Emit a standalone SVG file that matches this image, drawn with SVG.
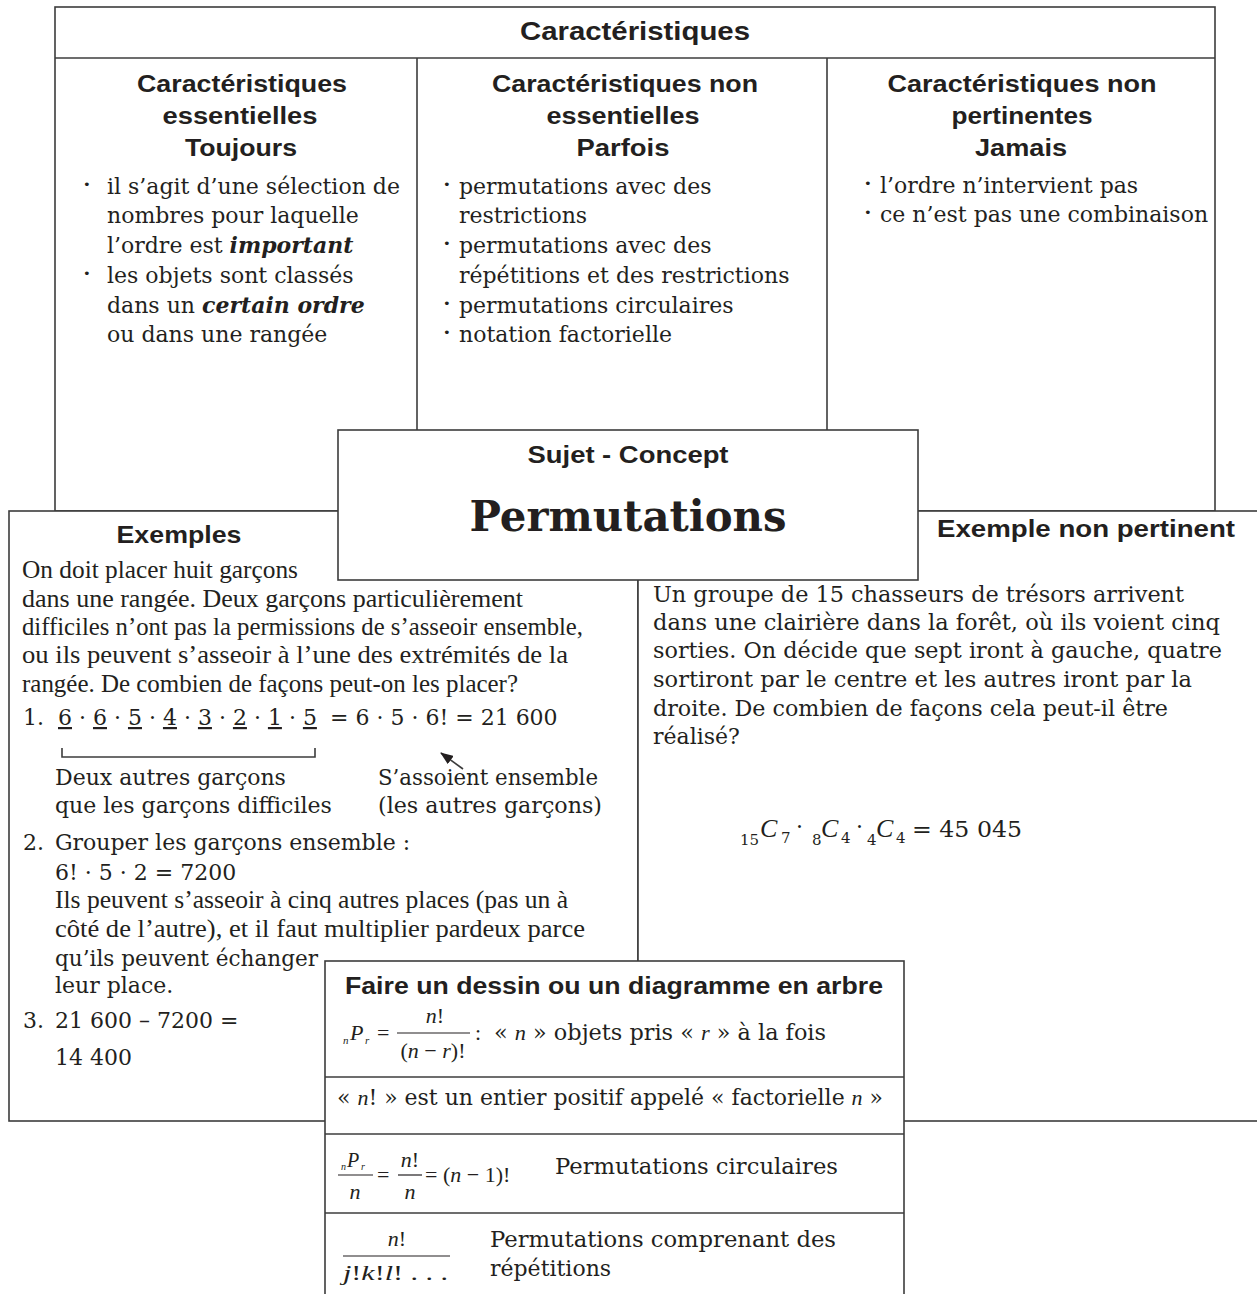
<svg xmlns="http://www.w3.org/2000/svg" width="1257" height="1294" viewBox="0 0 1257 1294">
<defs>
<style>
.box{fill:#fff;stroke:#3c3c3c;stroke-width:1.6}
.ln{fill:none;stroke:#3c3c3c;stroke-width:1.6}
.fl{stroke:#231f20;stroke-width:1.2}
.h{font-family:"Liberation Sans",Arial,Helvetica,sans-serif;font-weight:bold;font-size:23.5px;fill:#231f20}
.c{font-family:"DejaVu Serif",serif;font-size:22px;fill:#231f20}
.t{font-family:"Liberation Serif","Times New Roman",serif;font-size:25px;fill:#231f20}
.f{font-family:"Liberation Serif","Times New Roman",serif;font-size:22px;fill:#231f20}
.it{font-family:"Liberation Serif","Times New Roman",serif;font-style:italic}
.bi{font-weight:bold;font-style:italic}
.u{text-decoration:underline}
.dot{font-family:"DejaVu Sans",sans-serif;font-size:13px;fill:#231f20}
</style>
<marker id="ah" markerWidth="13" markerHeight="10" refX="12" refY="5" orient="auto" markerUnits="userSpaceOnUse">
<path d="M0,0 L13,5 L0,10 z" fill="#231f20"/>
</marker>
</defs>

<g id="characteristics">
<rect class="box" x="55" y="7" width="1160" height="504"/>
<line class="ln" x1="55" y1="58" x2="1215" y2="58"/>
<line class="ln" x1="417" y1="58" x2="417" y2="511"/>
<line class="ln" x1="827" y1="58" x2="827" y2="511"/>
<text class="h" x="635" y="40" text-anchor="middle" style="font-size:25.5px" textLength="230" lengthAdjust="spacingAndGlyphs">Caractéristiques</text>

<text class="h" x="242" y="92" text-anchor="middle" textLength="210" lengthAdjust="spacingAndGlyphs">Caractéristiques</text>
<text class="h" x="240" y="124" text-anchor="middle" textLength="155" lengthAdjust="spacingAndGlyphs">essentielles</text>
<text class="h" x="241" y="156" text-anchor="middle" textLength="112" lengthAdjust="spacingAndGlyphs">Toujours</text>
<text class="dot" x="83" y="189">•</text>
<text class="c" x="107" y="194">il s’agit d’une sélection de</text>
<text class="c" x="107" y="223">nombres pour laquelle</text>
<text class="c" x="107" y="253">l’ordre est <tspan class="bi">important</tspan></text>
<text class="dot" x="83" y="278">•</text>
<text class="c" x="107" y="283">les objets sont classés</text>
<text class="c" x="107" y="313">dans un <tspan class="bi">certain ordre</tspan></text>
<text class="c" x="107" y="342">ou dans une rangée</text>

<text class="h" x="625" y="92" text-anchor="middle" textLength="266" lengthAdjust="spacingAndGlyphs">Caractéristiques non</text>
<text class="h" x="623" y="124" text-anchor="middle" textLength="153" lengthAdjust="spacingAndGlyphs">essentielles</text>
<text class="h" x="623" y="156" text-anchor="middle" textLength="93" lengthAdjust="spacingAndGlyphs">Parfois</text>
<text class="dot" x="443" y="189">•</text>
<text class="c" x="459" y="194">permutations avec des</text>
<text class="c" x="459" y="223">restrictions</text>
<text class="dot" x="443" y="248">•</text>
<text class="c" x="459" y="253">permutations avec des</text>
<text class="c" x="459" y="283">répétitions et des restrictions</text>
<text class="dot" x="443" y="308">•</text>
<text class="c" x="459" y="313">permutations circulaires</text>
<text class="dot" x="443" y="337">•</text>
<text class="c" x="459" y="342">notation factorielle</text>

<text class="h" x="1022" y="92" text-anchor="middle" textLength="269" lengthAdjust="spacingAndGlyphs">Caractéristiques non</text>
<text class="h" x="1022" y="124" text-anchor="middle" textLength="141" lengthAdjust="spacingAndGlyphs">pertinentes</text>
<text class="h" x="1021" y="156" text-anchor="middle" textLength="92" lengthAdjust="spacingAndGlyphs">Jamais</text>
<text class="dot" x="864" y="188">•</text>
<text class="c" x="880" y="193">l’ordre n’intervient pas</text>
<text class="dot" x="864" y="217">•</text>
<text class="c" x="880" y="222">ce n’est pas une combinaison</text>
</g>

<g id="examples">
<rect class="box" x="9" y="511" width="629" height="610"/>
<text class="h" x="179" y="543" text-anchor="middle" style="font-size:24px" textLength="125" lengthAdjust="spacingAndGlyphs">Exemples</text>
<text class="t" x="22" y="578" textLength="276" lengthAdjust="spacingAndGlyphs">On doit placer huit garçons</text>
<text class="t" x="22" y="607" textLength="501" lengthAdjust="spacingAndGlyphs">dans une rangée. Deux garçons particulièrement</text>
<text class="t" x="22" y="635" textLength="561" lengthAdjust="spacingAndGlyphs">difficiles n’ont pas la permissions de s’asseoir ensemble,</text>
<text class="t" x="22" y="663" textLength="546" lengthAdjust="spacingAndGlyphs">ou ils peuvent s’asseoir à l’une des extrémités de la</text>
<text class="t" x="22" y="692" textLength="496" lengthAdjust="spacingAndGlyphs">rangée. De combien de façons peut-on les placer?</text>

<text class="c" x="23" y="725">1.</text>
<text class="c" x="58" y="725"><tspan class="u">6</tspan> · <tspan class="u">6</tspan> · <tspan class="u">5</tspan> · <tspan class="u">4</tspan> · <tspan class="u">3</tspan> · <tspan class="u">2</tspan> · <tspan class="u">1</tspan> · <tspan class="u">5</tspan></text>
<text class="c" x="330" y="725">= 6 · 5 · 6! = 21 600</text>
<path class="ln" d="M62,748 V757 H315 V748"/>
<text class="c" x="55" y="785">Deux autres garçons</text>
<text class="c" x="55" y="813">que les garçons difficiles</text>
<text class="c" x="378" y="785" textLength="220" lengthAdjust="spacingAndGlyphs">S’assoient ensemble</text>
<text class="c" x="378" y="813" textLength="224" lengthAdjust="spacingAndGlyphs">(les autres garçons)</text>

<text class="c" x="23" y="850">2.</text>
<text class="c" x="55" y="850">Grouper les garçons ensemble :</text>
<text class="c" x="55" y="880">6! · 5 · 2 = 7200</text>
<text class="t" x="55" y="908" textLength="513" lengthAdjust="spacingAndGlyphs">Ils peuvent s’asseoir à cinq autres places (pas un à</text>
<text class="t" x="55" y="937" textLength="530" lengthAdjust="spacingAndGlyphs">côté de l’autre), et il faut multiplier pardeux parce</text>
<text class="c" x="55" y="966" textLength="263" lengthAdjust="spacingAndGlyphs">qu’ils peuvent échanger</text>
<text class="c" x="55" y="993">leur place.</text>
<text class="c" x="23" y="1028">3.</text>
<text class="c" x="55" y="1028">21 600 – 7200 =</text>
<text class="c" x="55" y="1065">14 400</text>
</g>

<g id="non-example">
<rect class="box" x="638" y="511" width="640" height="610"/>
<text class="h" x="1086" y="537" text-anchor="middle" style="font-size:24px" textLength="298" lengthAdjust="spacingAndGlyphs">Exemple non pertinent</text>
<text class="c" x="653" y="602" textLength="531" lengthAdjust="spacingAndGlyphs">Un groupe de 15 chasseurs de trésors arrivent</text>
<text class="c" x="653" y="630" textLength="567" lengthAdjust="spacingAndGlyphs">dans une clairière dans la forêt, où ils voient cinq</text>
<text class="c" x="653" y="658" textLength="569" lengthAdjust="spacingAndGlyphs">sorties. On décide que sept iront à gauche, quatre</text>
<text class="c" x="653" y="687" textLength="539" lengthAdjust="spacingAndGlyphs">sortiront par le centre et les autres iront par la</text>
<text class="c" x="653" y="716" textLength="515" lengthAdjust="spacingAndGlyphs">droite. De combien de façons cela peut-il être</text>
<text class="c" x="653" y="744">réalisé?</text>

<text class="c" x="740" y="845" style="font-size:15px">15</text>
<text class="f it" x="760" y="837" style="font-size:26px">C</text>
<text class="c" x="781" y="843" style="font-size:15px">7</text>
<text class="c" x="796" y="834">·</text>
<text class="c" x="812" y="845" style="font-size:15px">8</text>
<text class="f it" x="821" y="837" style="font-size:26px">C</text>
<text class="c" x="841" y="843" style="font-size:15px">4</text>
<text class="c" x="856" y="834">·</text>
<text class="c" x="867" y="845" style="font-size:15px">4</text>
<text class="f it" x="876" y="837" style="font-size:26px">C</text>
<text class="c" x="896" y="843" style="font-size:15px">4</text>
<text class="c" x="912" y="837" textLength="110" lengthAdjust="spacingAndGlyphs">= 45 045</text>
</g>

<g id="concept">
<rect class="box" x="338" y="430" width="580" height="150"/>
<text class="h" x="628" y="463" text-anchor="middle" style="font-size:24.5px" textLength="201" lengthAdjust="spacingAndGlyphs">Sujet - Concept</text>
<text x="628" y="531" text-anchor="middle" style="font-family:'DejaVu Serif',serif;font-weight:bold;font-size:43px;fill:#231f20" textLength="317" lengthAdjust="spacingAndGlyphs">Permutations</text>
</g>

<g id="strategies">
<rect class="box" x="325" y="961" width="579" height="345"/>
<line class="ln" x1="325" y1="1077" x2="904" y2="1077"/>
<line class="ln" x1="325" y1="1134" x2="904" y2="1134"/>
<line class="ln" x1="325" y1="1213" x2="904" y2="1213"/>
<text class="h" x="614" y="994" text-anchor="middle" textLength="538" lengthAdjust="spacingAndGlyphs">Faire un dessin ou un diagramme en arbre</text>

<text class="f it" x="343" y="1044" style="font-size:11px">n</text>
<text class="f it" x="350" y="1040">P</text>
<text class="f it" x="365" y="1044" style="font-size:11px">r</text>
<text class="f" x="377" y="1040">=</text>
<line class="fl" x1="397" y1="1033" x2="470" y2="1033"/>
<text class="f" x="435" y="1023" text-anchor="middle"><tspan class="it">n</tspan>!</text>
<text class="f" x="433" y="1058" text-anchor="middle">(<tspan class="it">n</tspan> − <tspan class="it">r</tspan>)!</text>
<text class="f" x="475" y="1040">:</text>
<text class="c" x="494" y="1040" textLength="332" lengthAdjust="spacingAndGlyphs">« <tspan class="it">n</tspan> » objets pris « <tspan class="it">r</tspan> » à la fois</text>

<text class="c" x="337" y="1105" textLength="546" lengthAdjust="spacingAndGlyphs">« <tspan class="it">n</tspan>! » est un entier positif appelé « factorielle <tspan class="it">n</tspan> »</text>

<text class="f it" x="341" y="1170" style="font-size:10px">n</text>
<text class="f it" x="347" y="1167" style="font-size:20px">P</text>
<text class="f it" x="361" y="1170" style="font-size:10px">r</text>
<line class="fl" x1="338" y1="1175" x2="373" y2="1175"/>
<text class="f it" x="355" y="1199" text-anchor="middle">n</text>
<text class="f" x="377" y="1182">=</text>
<text class="f" x="410" y="1167" text-anchor="middle"><tspan class="it">n</tspan>!</text>
<line class="fl" x1="398" y1="1175" x2="422" y2="1175"/>
<text class="f it" x="410" y="1199" text-anchor="middle">n</text>
<text class="f" x="425" y="1182">= (<tspan class="it">n</tspan> − 1)!</text>
<text class="c" x="555" y="1174" textLength="283" lengthAdjust="spacingAndGlyphs">Permutations circulaires</text>

<text class="f" x="397" y="1246" text-anchor="middle"><tspan class="it">n</tspan>!</text>
<line class="fl" x1="343" y1="1256" x2="450" y2="1256"/>
<text class="f" x="343" y="1280" textLength="105" lengthAdjust="spacingAndGlyphs"><tspan class="it">j</tspan>!<tspan class="it">k</tspan>!<tspan class="it">l</tspan>! . . .</text>
<text class="c" x="490" y="1247" textLength="346" lengthAdjust="spacingAndGlyphs">Permutations comprenant des</text>
<text class="c" x="490" y="1276">répétitions</text>
</g>

<g id="connectors">
<line class="ln" x1="463" y1="769" x2="441" y2="753" marker-end="url(#ah)"/>
</g>
</svg>
